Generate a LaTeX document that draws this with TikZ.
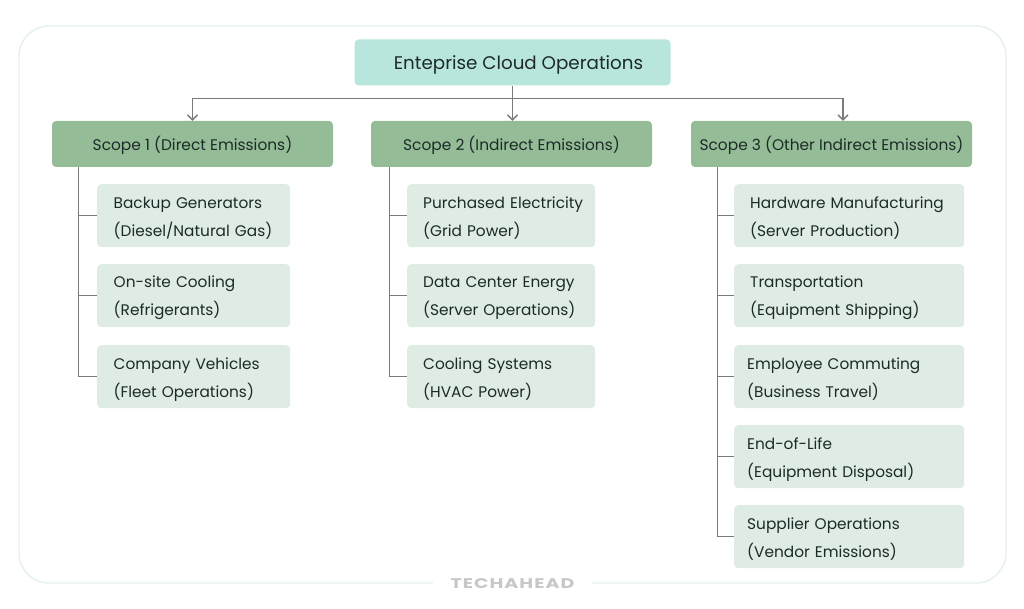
\documentclass[tikz,border=0pt]{standalone}
\usepackage{fontspec}
\setmainfont{Poppins}
\newfontfamily\logofont[LetterSpace=7.5,FakeStretch=1.35]{Poppins}
\usepackage{tikz}
\usetikzlibrary{arrows.meta}
\usetikzlibrary{positioning}
\definecolor{rootfill}{HTML}{B8E6DD}
\definecolor{scopefill}{HTML}{94BC96}
\definecolor{itemfill}{HTML}{DFECE4}
\definecolor{framecol}{HTML}{E4F1E8}
\definecolor{linkcol}{HTML}{7A7A7A}
\definecolor{inkcol}{HTML}{1D2B28}
\tikzset{rootbox/.style = {fill=rootfill, rounded corners=4pt, text=inkcol,
                           minimum width=316pt, minimum height=46pt,
                           text height=14pt, text depth=0pt,
                           execute at begin node={\hspace*{12pt}},
                           font=\fontsize{18.3}{20}\selectfont}}
\tikzset{scopebox/.style = {fill=scopefill, rounded corners=4pt, text=inkcol,
                            minimum width=281pt, minimum height=46pt,
                            text height=13pt, text depth=0pt,
                            font=\fontsize{15.4}{18}\selectfont}}
\tikzset{itembox/.style n args = {2}{fill=itemfill, rounded corners=4pt, text=inkcol,
                           anchor=north west, align=left, minimum height=63pt,
                           inner xsep=0pt, inner ysep=0pt, text width=#1pt,
                           execute at begin node={\leftskip=#2pt\relax},
                           execute at end node={\par\vspace{-5pt}},
                           font=\fontsize{15.35}{28}\selectfont}}
\tikzset{link/.style = {draw=linkcol, line width=1.3pt}}
\tikzset{tip/.style = {-{Straight Barb[length=5pt,width=10pt]}}}

\begin{document}
\begin{tikzpicture}[x=1pt,y=-1pt]
	\useasboundingbox (0,0) rectangle (1024,609);
	\draw [framecol, line width=1.4pt, rounded corners=30pt] (19,26) rectangle (1006,583);
	\node [fill=white, inner xsep=18pt, inner ysep=3pt, text=black!22, font=\fontsize{14}{14}\selectfont\logofont\bfseries]
		(logo) at (512.5,584) {TECHAHEAD};

	\node [rootbox] (root) at (512.5,62.5) {Enteprise Cloud Operations};
	\node [scopebox] (s1) at (192.5,144) {Scope 1 (Direct Emissions)};
	\node [scopebox] (s2) at (511.5,144) {Scope 2 (Indirect Emissions)};
	\node [scopebox] (s3) at (831.5,144) {Scope 3 (Other Indirect Emissions)};

	% first column
	\foreach \name/\ypos/\txt in {a/184/{Backup Generators\\(Diesel/Natural Gas)},
			b/264/{On-site Cooling\\(Refrigerants)},
			c/345/{Company Vehicles\\(Fleet Operations)}}
		\node [itembox={193}{16.5}] (s1\name) at (97,\ypos) {\txt};

	% second column
	\foreach \name/\ypos/\txt in {a/184/{Purchased Electricity\\(Grid Power)},
			b/264/{Data Center Energy\\(Server Operations)},
			c/345/{Cooling Systems\\(HVAC Power)}}
		\node [itembox={188}{16}] (s2\name) at (407,\ypos) {\txt};

	% third column
	\node [itembox={230}{16}] (s3a) at (734,184) {Hardware Manufacturing\\(Server Production)};
	\node [itembox={230}{16}] (s3b) at (734,264) {Transportation\\(Equipment Shipping)};
	\node [itembox={230}{13}] (s3c) at (734,345) {Employee Commuting\\(Business Travel)};
	\node [itembox={230}{13}] (s3d) at (734,425) {End-of-Life\\(Equipment Disposal)};
	\node [itembox={230}{13}] (s3e) at (734,505) {Supplier Operations\\(Vendor Emissions)};

	% top bus
	\coordinate (bus) at (512.5,98.5);
	\coordinate (s3in) at ([xshift=11.5pt]s3.north);
	\draw [link] (root.south) -- (bus);
	\draw [link, tip] (bus) -| (s1.north);
	\draw [link, tip] (bus) -- (bus |- s2.north);
	\draw [link, tip] (bus) -| (s3in);

	% trunks
	\coordinate (t1) at ([xshift=26.5pt]s1.south west);
	\coordinate (t2) at ([xshift=19pt]s2.south west);
	\coordinate (t3) at ([xshift=26.5pt]s3.south west);
	\draw [link] (s1c.west) -| (t1);
	\draw [link] (s2c.west) -| (t2);
	\draw [link] (s3e.west) -| (t3);
	\foreach \itm/\trunk in {s1a/t1, s1b/t1, s2a/t2, s2b/t2, s3a/t3, s3b/t3, s3c/t3, s3d/t3}
		\draw [link] (\itm.west) -- (\itm.west -| \trunk);
\end{tikzpicture}
\end{document}
